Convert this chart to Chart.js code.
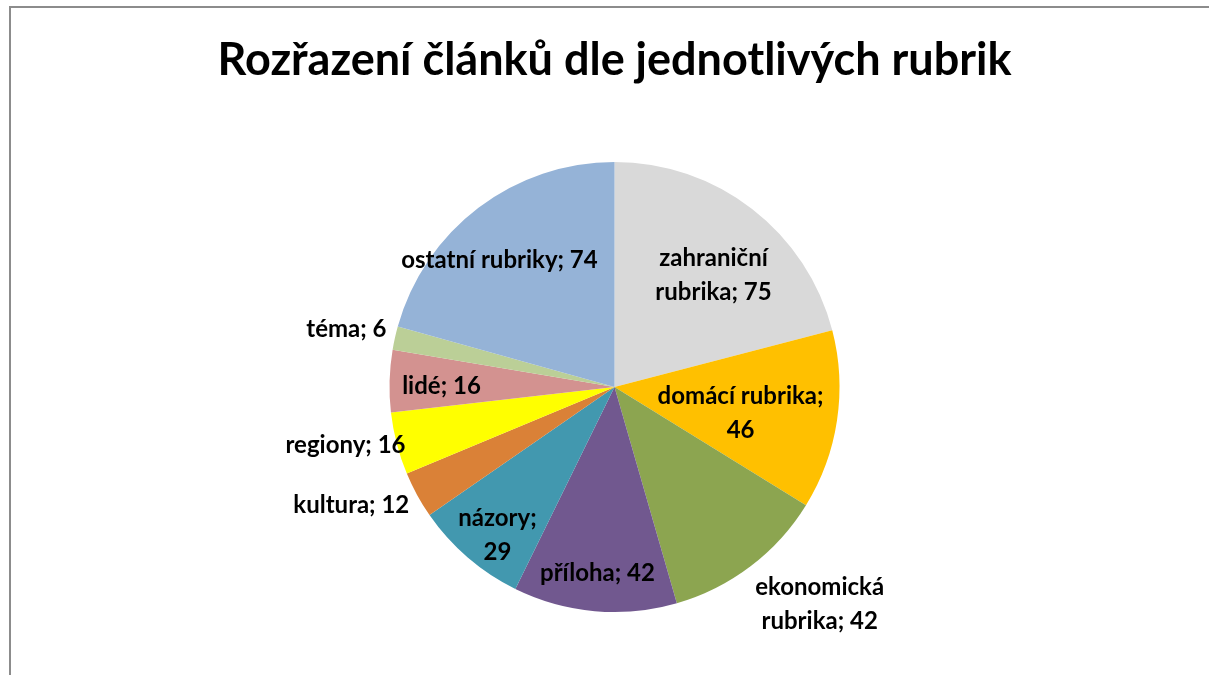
<!DOCTYPE html>
<html>
<head>
<meta charset="utf-8">
<script src="https://cdn.jsdelivr.net/npm/chart.js@4"></script>
<style>
html,body{margin:0;padding:0;background:#fff;overflow:hidden;}
#frame{position:absolute;left:9px;top:6px;width:1400px;height:900px;border-left:2px solid #8c8c8c;border-top:2px solid #8c8c8c;}
#wrap{position:absolute;left:0;top:0;width:1209px;height:675px;}
</style>
</head>
<body>
<div id="frame"></div>
<div id="wrap"><canvas id="c" width="1209" height="675"></canvas></div>
<script>
const titleText = "Rozřazení článků dle jednotlivých rubrik";
const categories = ["zahraniční rubrika","domácí rubrika","ekonomická rubrika","příloha","názory","kultura","regiony","lidé","téma","ostatní rubriky"];
const values = [75,46,42,42,29,12,16,16,6,74];
const colors = ["#D9D9D9","#FFC000","#8CA550","#71588F","#4298AF","#DA8137","#FFFF00","#D39290","#BBCF97","#95B3D7"];
// label placement: [angle offset from slice middle (deg), distance as fraction of radius, line break mode]
const labelPlacement = [
  [3.8,0.664,"word"],[3.1,0.572,"value"],[-6.2,1.327,"word"],[0.2,0.83,null],[-2.4,0.839,"value"],
  [4.4,1.283,null],[2.4,1.223,null],[-1.2,0.769,null],[-0.4,1.219,null],[-5,0.761,null]
];
const FONT = "Lato";

const labelPlugin = {
  id:'sliceLabels',
  afterDatasetsDraw(chart){
    const ctx = chart.ctx;
    const meta = chart.getDatasetMeta(0);
    ctx.save();
    ctx.fillStyle = "#000";
    ctx.font = "bold 24px " + FONT;
    ctx.textAlign = "center";
    ctx.textBaseline = "middle";
    meta.data.forEach((arc,i)=>{
      const p = arc.getProps(['x','y','startAngle','endAngle','outerRadius'],true);
      const [da,frac,brk] = labelPlacement[i];
      const mid = (p.startAngle+p.endAngle)/2 + da*Math.PI/180;
      const d = p.outerRadius*frac;
      const x = p.x + Math.cos(mid)*d;
      const y = p.y + Math.sin(mid)*d;
      const name = categories[i], v = values[i];
      let lines;
      if(brk==="word"){const k=name.indexOf(" ");lines=[name.slice(0,k), name.slice(k+1)+"; "+v];}
      else if(brk==="value"){lines=[name+";", String(v)];}
      else lines=[name+"; "+v];
      const lh = 34;
      lines.forEach((t,j)=>{
        ctx.fillText(t, x, y + (j-(lines.length-1)/2)*lh);
      });
    });
    ctx.restore();
  }
};

new Chart(document.getElementById('c'),{
  type:'pie',
  data:{labels:categories,datasets:[{data:values,backgroundColor:colors,borderWidth:0}]},
  options:{
    responsive:false,animation:false,
    layout:{padding:{left:20,right:0,top:0,bottom:63}},
    plugins:{
      legend:{display:false},tooltip:{enabled:false},
      title:{display:true,text:titleText,color:"#000",font:{family:FONT,size:45,weight:'bold'},padding:{top:33,bottom:75}}
    }
  },
  plugins:[labelPlugin]
});
</script>
</body>
</html>
